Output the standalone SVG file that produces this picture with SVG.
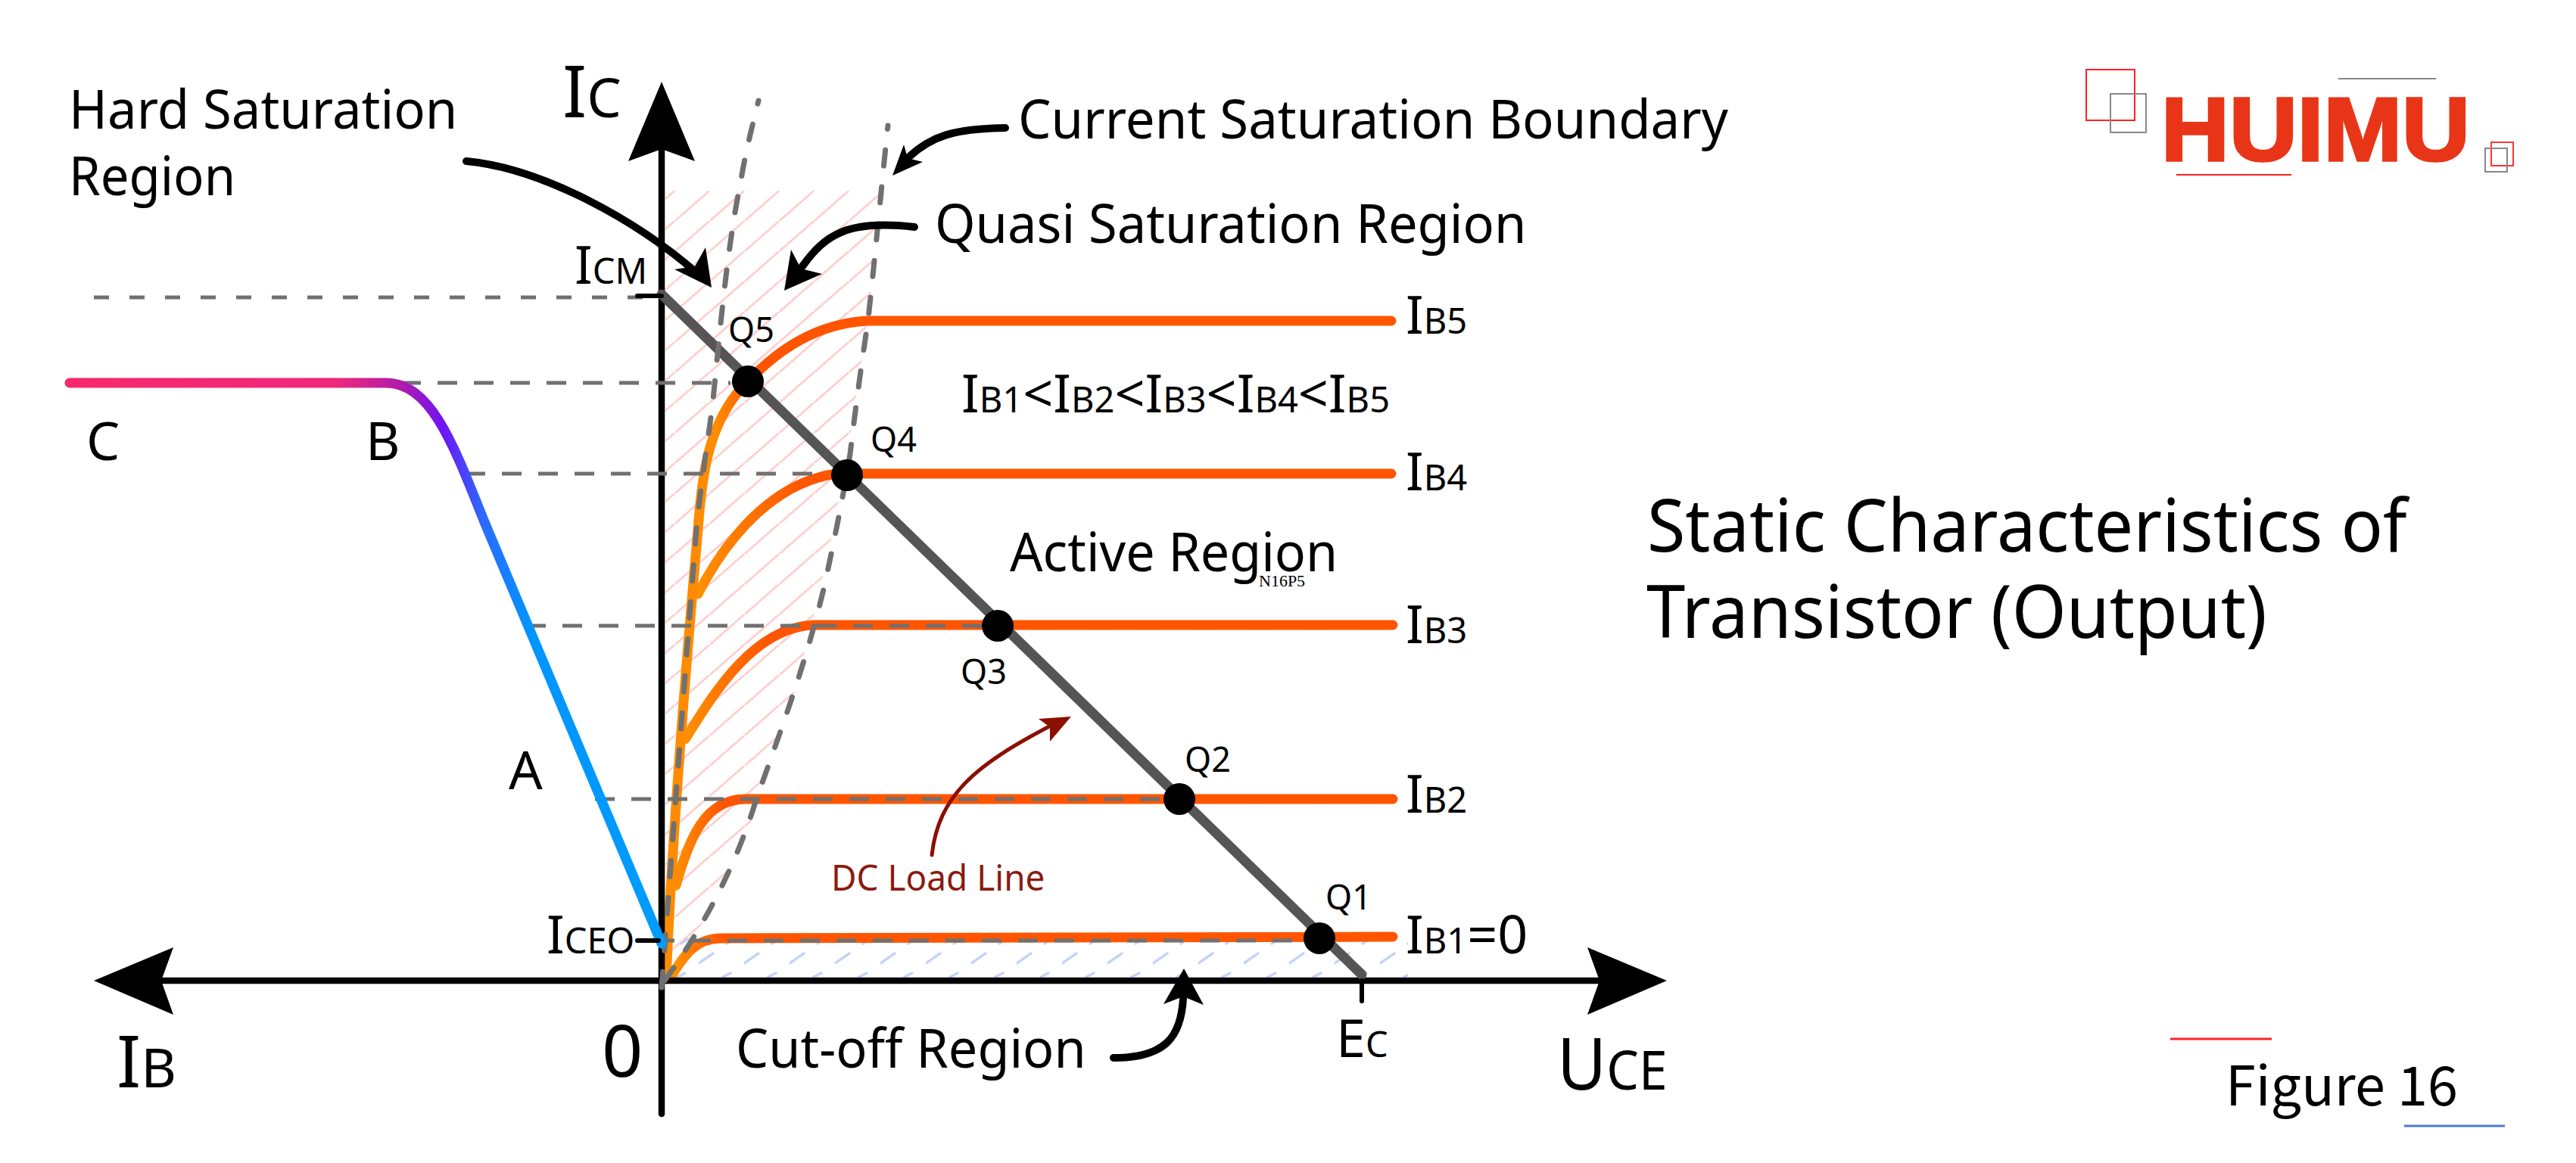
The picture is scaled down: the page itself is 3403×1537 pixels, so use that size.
<svg xmlns="http://www.w3.org/2000/svg" width="3403" height="1537" viewBox="0 0 3403 1537">
<style>
text{font-family:"Noto Sans","DejaVu Sans",sans-serif;fill:#000}
.t{font-size:70px}
.l{font-size:71px}
.s{font-size:47px}
.q{font-size:45px}
.b{font-size:95px}
.m{font-size:72px}
.big{font-size:97px}
.o{fill:none;stroke-width:13;stroke-linecap:round;stroke-linejoin:round}
.h{stroke:#707070;stroke-width:5;stroke-dasharray:26 22;fill:none}
.d{stroke:#707070;stroke-width:7;stroke-dasharray:21 28;fill:none;stroke-linecap:round}
.ar{fill:none;stroke:#000;stroke-width:10;stroke-linecap:round}
.tick{stroke:#000;stroke-width:6;stroke-linecap:round}
</style>
<defs>
<linearGradient id="gTrunk" gradientUnits="userSpaceOnUse" x1="945" y1="0" x2="1000" y2="0"><stop offset="0" stop-color="#ff8c00"/><stop offset="1" stop-color="#ff5500"/></linearGradient>
<linearGradient id="gB4" gradientUnits="userSpaceOnUse" x1="925" y1="0" x2="1060" y2="0"><stop offset="0" stop-color="#ff9000"/><stop offset="1" stop-color="#ff5500"/></linearGradient>
<linearGradient id="gB3" gradientUnits="userSpaceOnUse" x1="905" y1="0" x2="1015" y2="0"><stop offset="0" stop-color="#ff9000"/><stop offset="1" stop-color="#ff5500"/></linearGradient>
<linearGradient id="gB12" gradientUnits="userSpaceOnUse" x1="892" y1="0" x2="955" y2="0"><stop offset="0" stop-color="#ff9000"/><stop offset="1" stop-color="#ff5500"/></linearGradient>
<linearGradient id="gInput" gradientUnits="userSpaceOnUse" x1="92" y1="0" x2="874" y2="0">
<stop offset="0" stop-color="#f8286c"/><stop offset="0.45" stop-color="#f0287a"/><stop offset="0.56" stop-color="#b01aaa"/><stop offset="0.63" stop-color="#6f14f5"/><stop offset="0.70" stop-color="#2a6cff"/><stop offset="0.78" stop-color="#0095ff"/><stop offset="1" stop-color="#009cff"/>
</linearGradient>
<pattern id="pPink" patternUnits="userSpaceOnUse" width="46" height="40" patternTransform="translate(937.5 252)"><path d="M47 -1L-1 41" stroke="#ffcaca" stroke-width="2.6" fill="none"/></pattern>
<pattern id="pBlue" patternUnits="userSpaceOnUse" width="60" height="56" patternTransform="translate(923 1240)"><path d="M0 33L19 20M32 51L42 46M37 7L47 0" stroke="#c6d3f8" stroke-width="3.4" fill="none" stroke-linecap="round"/></pattern>
<clipPath id="cPink"><path d="M879 252L1165 252L1156 332L1147 421L1134 503L1120 600L1098 712L1077 808L1050 912L1025 985L992 1087L945 1190L920 1233L879 1296Z"/></clipPath>
</defs>

<g id="hatching">
<rect x="879" y="252" width="300" height="1044" fill="url(#pPink)" clip-path="url(#cPink)"/>
<rect x="885" y="1240" width="975" height="52" fill="url(#pBlue)"/>
</g>

<g id="curves">
<path id="curve-ib4" class="o" stroke="url(#gB4)" d="M922 785C945 740 1005 640 1105 626L1838 626"/>
<path id="curve-ib3" class="o" stroke="url(#gB3)" d="M905 977C935 930 990 830 1074 826L1840 826"/>
<path id="curve-ib2" class="o" stroke="url(#gB12)" d="M893 1170C910 1110 930 1056 985 1056L1840 1056"/>
<path id="curve-ib1" class="o" stroke="url(#gB12)" d="M887 1290C905 1260 920 1240 953 1240L1840 1238"/>
<path id="curve-ib5" class="o" stroke="url(#gTrunk)" d="M880 1294C886 1150 900 950 922 700C927 630 935 555 988 504C1030 460 1080 428 1145 424L1838 424"/>
</g>

<g id="connectors">
<path id="axis-y" d="M874 1472L874 190" stroke="#000" stroke-width="8.5" stroke-linecap="round" fill="none"/>
<path id="axis-x" d="M200 1296L2120 1296" stroke="#000" stroke-width="8.5" fill="none"/>
<path id="load-line" d="M874 389L1799 1288" stroke="#555" stroke-width="13" fill="none" stroke-linecap="round"/>
<path id="hard-boundary" class="d" d="M874 1305C886 1150 900 950 920 700C928 620 936 580 942 528C950 450 960 330 978 243C985 200 993 170 1002 133"/>
<path id="quasi-boundary" class="d" d="M878 1296C915 1245 965 1165 997 1063C1022 990 1065 880 1090 770C1105 700 1115 650 1123 600C1135 500 1140 470 1147 421C1158 320 1165 240 1173 166"/>
<path id="guide-icm" class="h" style="stroke-dasharray:20 27" d="M124 393L850 393"/>
<path id="guide-q5" class="h" d="M530 506L965 506"/>
<path id="guide-q4" class="h" d="M615 626L1095 626"/>
<path id="guide-q3" class="h" d="M695 827L1300 827"/>
<path id="guide-q2" class="h" d="M786 1056L1540 1056"/>
<path id="guide-q1" class="h" d="M865 1243L1725 1243"/>
<path id="curve-input" class="o" stroke="url(#gInput)" d="M92 506L510 506C570 506 600 590 640 690L874 1247"/>
<polygon id="head-y" points="874,108 918,213 874,197 830,213"/>
<polygon id="head-x-left" points="124,1296 229,1252 213,1296 229,1341"/>
<polygon id="head-x-right" points="2202,1296 2097,1252 2113,1296 2097,1341"/>
<path id="tick-icm" class="tick" d="M842 391L874 391"/>
<path id="tick-iceo" class="tick" d="M842 1243L870 1243"/>
<path id="tick-ec" class="tick" d="M1799 1296L1799 1323"/>
<path id="arrow-hard" class="ar" d="M616 213C715 222 840 290 922 362"/>
<polygon id="head-hard" points="940,380 932,327 918,352 891,356"/>
<path id="arrow-quasi" class="ar" d="M1208 300C1120 290 1090 310 1060 352"/>
<polygon id="head-quasi" points="1036,384 1045,330 1058,355 1086,362"/>
<path id="arrow-current" class="ar" d="M1328 169C1260 170 1230 180 1200 208"/>
<polygon id="head-current" points="1179,232 1194,191 1199,209 1219,214"/>
<path id="arrow-dc" d="M1231 1130C1240 1050 1290 1010 1390 958" fill="none" stroke="#8b1000" stroke-width="5" stroke-linecap="round"/>
<polygon id="head-dc" points="1415,947 1372,950 1387,961 1387,980" fill="#8b1000"/>
<path id="arrow-cut" class="ar" d="M1471 1398C1540 1398 1560 1370 1563 1320"/>
<polygon id="head-cut" points="1564,1280 1537,1327 1563,1317 1590,1328"/>
</g>

<g id="points">
<circle id="q1" cx="1743" cy="1240" r="21"/>
<circle id="q2" cx="1558" cy="1056" r="21"/>
<circle id="q3" cx="1318" cy="827" r="21"/>
<circle id="q4" cx="1119" cy="628" r="21"/>
<circle id="q5" cx="988" cy="504" r="21"/>
</g>

<g id="labels">
<text class="l" transform="translate(91 170) scale(.97 1)">Hard Saturation</text>
<text class="l" transform="translate(91 258) scale(.945 1)">Region</text>
<text x="743" y="155"><tspan class="b">I</tspan><tspan class="m">C</tspan></text>
<text class="l" transform="translate(1345 183) scale(.972 1)">Current Saturation Boundary</text>
<text class="l" transform="translate(1235 321) scale(.967 1)">Quasi Saturation Region</text>
<text x="759" y="375"><tspan class="t">I</tspan><tspan class="s">CM</tspan></text>
<text class="q" x="962" y="452">Q5</text>
<text class="q" x="1150" y="597">Q4</text>
<text class="q" x="1269" y="904">Q3</text>
<text class="q" x="1565" y="1020">Q2</text>
<text class="q" x="1751" y="1202">Q1</text>
<text x="1857" y="441"><tspan class="t">I</tspan><tspan class="s">B5</tspan></text>
<text x="1857" y="648"><tspan class="t">I</tspan><tspan class="s">B4</tspan></text>
<text x="1857" y="850"><tspan class="t">I</tspan><tspan class="s">B3</tspan></text>
<text x="1857" y="1074"><tspan class="t">I</tspan><tspan class="s">B2</tspan></text>
<text x="1857" y="1260"><tspan class="t">I</tspan><tspan class="s">B1</tspan><tspan class="t">=0</tspan></text>
<text x="1270" y="545"><tspan class="t">I</tspan><tspan class="s">B1</tspan><tspan class="t">&lt;I</tspan><tspan class="s">B2</tspan><tspan class="t">&lt;I</tspan><tspan class="s">B3</tspan><tspan class="t">&lt;I</tspan><tspan class="s">B4</tspan><tspan class="t">&lt;I</tspan><tspan class="s">B5</tspan></text>
<text class="l" transform="translate(1334 755) scale(.961 1)">Active Region</text>
<text x="1663" y="775" style="font-family:'Liberation Serif',serif;font-size:22px">N16P5</text>
<text class="t" x="672" y="1043">A</text>
<text class="t" x="114" y="608">C</text>
<text class="t" x="483" y="608">B</text>
<text class="b" x="795" y="1423">0</text>
<text x="154" y="1437"><tspan class="b">I</tspan><tspan class="m">B</tspan></text>
<text x="722" y="1260"><tspan class="t">I</tspan><tspan class="s">CEO</tspan></text>
<text x="1765" y="1397"><tspan class="t">E</tspan><tspan class="s">C</tspan></text>
<text transform="translate(2057 1440) scale(.94 1)"><tspan class="b">U</tspan><tspan class="m">CE</tspan></text>
<text class="l" transform="translate(972 1411) scale(.963 1)">Cut-off Region</text>
<text transform="translate(1098 1177) scale(.977 1)" style="font-size:47px;fill:#8b1a10">DC Load Line</text>
<text class="big" transform="translate(2176 729) scale(.946 1)">Static Characteristics of</text>
<text class="big" transform="translate(2175 843) scale(.951 1)">Transistor (Output)</text>
</g>

<g id="logo">
<rect x="2756" y="92" width="64" height="67" fill="none" stroke="#f22" stroke-width="2"/>
<rect x="2788" y="124" width="47" height="51" fill="none" stroke="#888" stroke-width="2"/>
<rect x="3291" y="188" width="29" height="31" fill="none" stroke="#f33" stroke-width="2"/>
<rect x="3283" y="196" width="29" height="31" fill="none" stroke="#888" stroke-width="2"/>
<path d="M3089 104L3218 104" stroke="#888" stroke-width="2"/>
<path d="M2875 231L3027 231" stroke="#f22" stroke-width="2"/>
<text x="2855" y="212" textLength="408" lengthAdjust="spacingAndGlyphs" style="font-family:'Liberation Sans',sans-serif;font-weight:bold;font-size:119px;fill:#e83518;stroke:#e83518;stroke-width:3.5">HUIMU</text>
</g>

<g id="figure-label">
<path d="M2867 1373L3001 1373" stroke="#f22" stroke-width="3"/>
<path d="M3176 1488L3309 1488" stroke="#4a7ad0" stroke-width="3"/>
<text x="2940" y="1461" style="font-family:'Noto Sans CJK SC','Noto Sans',sans-serif;font-size:72px">Figure 16</text>
</g>
</svg>
